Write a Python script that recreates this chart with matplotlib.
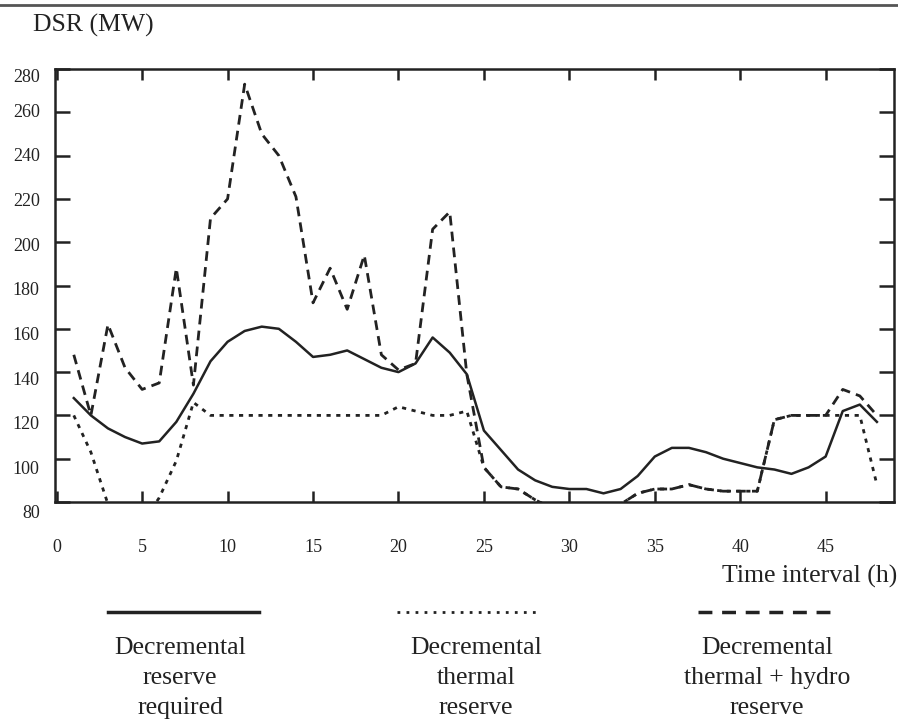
import numpy as np
import matplotlib
matplotlib.use('Agg')
from matplotlib import pyplot as plt
from matplotlib.lines import Line2D
from matplotlib.transforms import ScaledTranslation

# 时段 1..48
hours = list(range(1, 49))

reserve_required = [128, 120, 114, 110, 107, 108, 117, 130, 145, 154,
                    159, 161, 160, 154, 147, 148, 150, 146, 142, 140,
                    144, 156, 149, 139, 113, 104, 95, 90, 87, 86,
                    86, 84, 86, 92, 101, 105, 105, 103, 100, 98,
                    96, 95, 93, 96, 101, 122, 125, 117]

thermal_reserve = [120, 103, 79, 70, 70, 82, 99, 126, 120, 120,
                   120, 120, 120, 120, 120, 120, 120, 120, 120, 124,
                   122, 120, 120, 122, 96, 87, 86, 81, 77, 75,
                   75, 76, 79, 84, 86, 86, 88, 86, 85, 85,
                   85, 118, 120, 120, 120, 120, 120, 88]

thermal_hydro_reserve = [148, 120, 162, 142, 132, 135, 188, 134, 211, 220,
                         273, 250, 240, 221, 172, 188, 169, 194, 148, 141,
                         144, 206, 214, 139, 96, 87, 86, 81, 77, 75,
                         75, 76, 79, 84, 86, 86, 88, 86, 85, 85,
                         85, 118, 120, 120, 120, 132, 129, 120]

x_ticks = list(range(0, 50, 5))
y_ticks = list(range(80, 281, 20))

legend_labels = ['Decremental\nreserve\nrequired',
                 'Decremental\nthermal\nreserve',
                 'Decremental\nthermal + hydro\nreserve']

ink = '#222222'
plt.rcParams['font.family'] = ['Liberation Serif', 'DejaVu Serif']
plt.rcParams['lines.scale_dashes'] = False

W, H = 898, 726
fig = plt.figure(figsize=(W / 100, H / 100), dpi=100)
ax = fig.add_axes([55 / W, 1 - 502 / H, (894 - 55) / W, (502 - 69) / H])

ax.plot(hours, reserve_required, color=ink, lw=1.8, solid_joinstyle='round', zorder=3)
ax.plot(hours, thermal_hydro_reserve, color=ink, lw=2.0, dashes=(7, 4.5), zorder=2)
ax.plot(hours, thermal_reserve, color=ink, lw=2.0, dashes=(3, 4), zorder=2.5)

ax.set_xlim(-0.1, 49)
ax.set_ylim(80, 280)
ax.set_xticks(x_ticks)
ax.set_yticks(y_ticks)
ax.tick_params(axis='both', direction='in', width=1.8, color=ink,
               labelsize=13, labelcolor=ink)
ax.tick_params(axis='x', top=True, length=8, pad=27)
ax.tick_params(axis='y', right=True, length=11, pad=11)
for s in ax.spines.values():
    s.set_linewidth(1.8)
    s.set_color(ink)

# 纵轴刻度文字在原图中略微偏下
for v, lab in zip(y_ticks, ax.get_yticklabels()):
    dy = 6 if v == 280 else 10 - (v - 80) / 15
    lab.set_transform(lab.get_transform() + ScaledTranslation(0, -dy / 100, fig.dpi_scale_trans))

# 纵轴标题、横轴标题
fig.text(33 / W, 1 - 25 / H, 'DSR (MW)', fontsize=18.5, color=ink,
         ha='left', va='center')
fig.text(897 / W, 1 - 576 / H, 'Time interval (h)', fontsize=18.5, color=ink,
         ha='right', va='center')

# 页面顶部的横线
fig.add_artist(Line2D([0, 1], [1 - 5 / H, 1 - 5 / H], color='#555555', lw=2))

# 图例（线型在上，文字在下）
key_styles = [dict(ls='-', lw=2.5),
              dict(dashes=(2, 4.5), lw=2),
              dict(dashes=(10, 7), lw=2.5)]
key_spans = [(108, 259), (397, 538), (698, 832)]
text_centers = [180, 476, 767]
for (x0, x1), st, xc, lab in zip(key_spans, key_styles, text_centers, legend_labels):
    fig.add_artist(Line2D([x0 / W, x1 / W], [1 - 612 / H, 1 - 612 / H], color=ink, **st))
    fig.text(xc / W, 1 - 678 / H, lab, fontsize=18.5, color=ink,
             ha='center', va='center', linespacing=1.45)

fig.savefig('out.png', dpi=100)
